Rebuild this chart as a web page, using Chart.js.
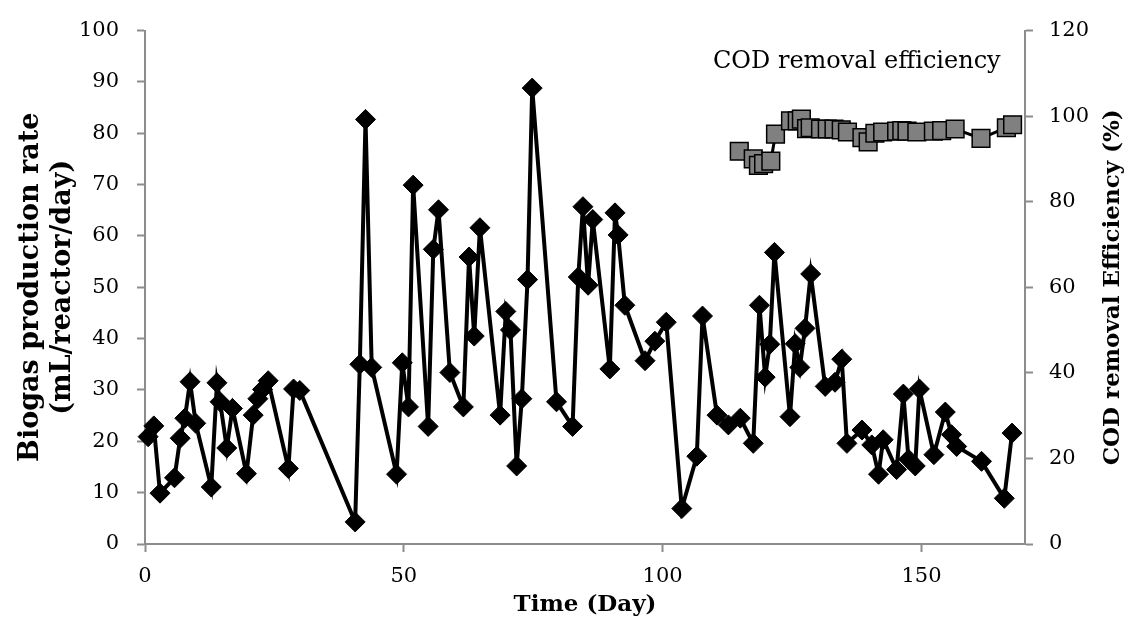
<!DOCTYPE html>
<html>
<head>
<meta charset="utf-8">
<script src="https://cdn.jsdelivr.net/npm/chart.js@4"></script>
<style>
html,body{margin:0;padding:0;background:#fff;}
#wrap{width:1133px;height:618px;}
</style>
</head>
<body>
<div id="wrap"><canvas id="c" width="1133" height="618"></canvas></div>
<script>
// ---- Data ----
const biogasDays = [0.6,1.7,2.9,5.7,6.8,7.7,8.7,9.8,12.8,13.9,14.5,15.8,16.9,19.6,20.9,21.8,22.7,23.8,27.7,28.7,29.9,
  40.6,41.5,42.6,43.8,48.6,49.7,50.9,51.8,54.7,55.7,56.7,58.9,61.5,62.6,63.6,64.7,68.6,69.7,70.6,71.8,72.8,73.9,74.8,
  79.5,82.6,83.7,84.6,85.6,86.5,89.8,90.8,91.4,92.7,96.6,98.5,100.7,103.7,106.6,107.7,110.5,112.7,115.0,117.5,118.7,
  119.8,120.7,121.6,124.6,125.6,126.5,127.5,128.6,131.4,133.3,134.6,135.6,138.5,140.4,141.7,142.6,145.2,146.5,147.5,
  148.8,149.6,152.4,154.6,155.8,156.8,161.6,166.0,167.5];
const biogasRate = [20.9,23.0,9.9,12.9,20.6,24.5,31.6,23.5,11.1,31.4,27.7,18.7,26.4,13.7,25.1,28.3,30.1,31.8,14.7,30.2,29.9,
  4.3,35.0,82.7,34.4,13.6,35.3,26.7,69.9,22.9,57.4,65.1,33.4,26.7,55.9,40.5,61.6,25.1,45.3,41.7,15.2,28.3,51.5,88.8,
  27.7,22.9,52.0,65.7,50.4,63.2,34.1,64.5,60.2,46.5,35.7,39.5,43.2,6.9,17.1,44.4,25.1,23.2,24.5,19.6,46.5,
  32.5,38.9,56.8,24.8,39.0,34.4,42.0,52.6,30.7,31.5,36.0,19.6,22.2,19.3,13.6,20.3,14.5,29.2,16.5,
  15.2,30.2,17.4,25.7,21.3,19.0,16.1,8.9,21.6];

const codDays = [114.8,117.5,118.5,119.5,120.9,121.8,124.7,126.0,126.8,127.8,128.5,130.5,131.8,133.1,134.5,135.7,
  138.5,139.7,141.0,142.5,145.2,146.2,147.2,149.1,152.3,153.9,156.5,161.5,166.4,167.6];
const codEfficiency = [91.8,90.0,88.5,88.9,89.5,95.8,98.9,98.9,99.3,97.1,97.3,97.0,97.0,97.0,96.8,96.3,
  95.0,94.0,96.0,96.3,96.5,96.6,96.5,96.3,96.5,96.6,97.0,94.8,97.3,98.0];

const xTicks = [0, 50, 100, 150];
const leftTicks = [0,10,20,30,40,50,60,70,80,90,100];
const rightTicks = [0,20,40,60,80,100,120];

const xTitle = 'Time (Day)';
const leftTitle = ['Biogas production rate', '(mL/reactor/day)'];
const rightTitle = 'COD removal Efficiency (%)';
const seriesLabel = 'COD removal efficiency';

// ---- Chart ----
const FONT = '"DejaVu Serif", "Liberation Serif", serif';
const axisGray = '#8c8c8c';

const textPlugin = {
  id: 'texts',
  afterDraw(chart) {
    const ctx = chart.ctx;
    const a = chart.chartArea;
    ctx.save();
    ctx.fillStyle = '#000';
    ctx.textBaseline = 'middle';
    ctx.textAlign = 'center';
    // x title
    ctx.font = 'bold 23px ' + FONT;
    ctx.fillText(xTitle, (a.left + a.right) / 2, 605);
    // left title (rotated)
    const cy = (a.top + a.bottom) / 2;
    ctx.save();
    ctx.translate(0, cy);
    ctx.rotate(-Math.PI / 2);
    ctx.font = 'bold 27px ' + FONT;
    ctx.fillText(leftTitle[0], 0, 31);
    ctx.fillText(leftTitle[1], 0, 63);
    ctx.restore();
    // right title
    ctx.save();
    ctx.translate(1113, cy);
    ctx.rotate(-Math.PI / 2);
    ctx.font = 'bold 23px ' + FONT;
    ctx.fillText(rightTitle, 0, 0);
    ctx.restore();
    // series label
    ctx.font = '24px ' + FONT;
    ctx.textAlign = 'left';
    ctx.fillText(seriesLabel, 713, 62);
    ctx.restore();
  }
};

const biogasData = biogasDays.map((d, i) => ({x: d, y: biogasRate[i]}));
const codData = codDays.map((d, i) => ({x: d, y: codEfficiency[i]}));

new Chart(document.getElementById('c'), {
  type: 'line',
  data: {
    datasets: [
      {
        label: 'Biogas production rate',
        data: biogasData,
        yAxisID: 'y',
        borderColor: '#000',
        borderWidth: 4,
        pointStyle: 'rectRot',
        pointRadius: 10,
        pointBackgroundColor: '#000',
        pointBorderColor: '#000',
        pointBorderWidth: 1,
        tension: 0,
        clip: false
      },
      {
        label: seriesLabel,
        data: codData,
        yAxisID: 'y1',
        borderColor: '#000',
        borderWidth: 3,
        pointStyle: 'rect',
        pointRadius: 12.5,
        pointBackgroundColor: '#808080',
        pointBorderColor: '#000',
        pointBorderWidth: 1.5,
        tension: 0,
        clip: false
      }
    ]
  },
  options: {
    responsive: false,
    animation: false,
    devicePixelRatio: 1,
    layout: { padding: { top: 23, left: 0, right: 0, bottom: 0 } },
    plugins: { legend: { display: false }, tooltip: { enabled: false } },
    scales: {
      x: {
        type: 'linear',
        min: 0, max: 170,
        afterBuildTicks: s => { s.ticks = xTicks.map(v => ({value: v})); },
        afterFit: s => { s.height = 74; },
        ticks: { color: '#000', font: { family: FONT, size: 21 }, padding: 12, maxRotation: 0 },
        grid: { display: true, drawOnChartArea: false, drawTicks: true, tickLength: 8, tickColor: axisGray, tickWidth: 2 },
        border: { display: true, color: axisGray, width: 2 }
      },
      y: {
        type: 'linear', position: 'left',
        min: 0, max: 100,
        afterBuildTicks: s => { s.ticks = leftTicks.map(v => ({value: v})); },
        afterFit: s => { s.width = 145; },
        ticks: { color: '#000', font: { family: FONT, size: 21 }, padding: 18 },
        grid: { display: true, drawOnChartArea: false, drawTicks: true, tickLength: 8, tickColor: axisGray, tickWidth: 2 },
        border: { display: true, color: axisGray, width: 2 }
      },
      y1: {
        type: 'linear', position: 'right',
        min: 0, max: 120,
        afterBuildTicks: s => { s.ticks = rightTicks.map(v => ({value: v})); },
        afterFit: s => { s.width = 108; },
        ticks: { color: '#000', font: { family: FONT, size: 21 }, padding: 16 },
        grid: { display: true, drawOnChartArea: false, drawTicks: true, tickLength: 8, tickColor: axisGray, tickWidth: 2 },
        border: { display: true, color: axisGray, width: 2 }
      }
    }
  },
  plugins: [textPlugin]
});
</script>
</body>
</html>
